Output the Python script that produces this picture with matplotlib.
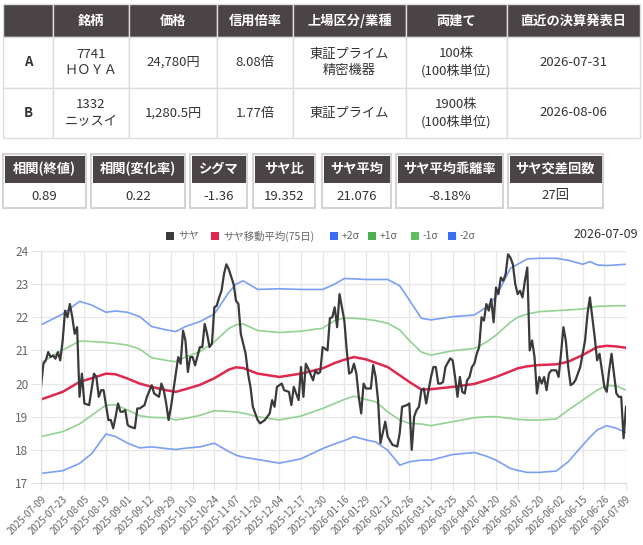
#サヤ取りペアの銘柄表・統計値・サヤ推移チャートを1枚に描く

import matplotlib
matplotlib.use('Agg')
import matplotlib.pyplot as plt
from matplotlib.patches import Rectangle

plt.rcParams['font.family'] = ['Noto Sans CJK JP', 'DejaVu Sans']

# 銘柄テーブル
head = ['', '銘柄', '価格', '信用倍率', '上場区分/業種', '両建て', '直近の決算発表日']
row_a = ['A', '7741\nＨＯＹＡ', '24,780円', '8.08倍', '東証プライム\n精密機器', '100株\n(100株単位)', '2026-07-31']
row_b = ['B', '1332\nニッスイ', '1,280.5円', '1.77倍', '東証プライム', '1900株\n(100株単位)', '2026-08-06']

# 統計値
stat_names = ['相関(終値)', '相関(変化率)', 'シグマ', 'サヤ比', 'サヤ平均', 'サヤ平均乖離率', 'サヤ交差回数']
stat_values = ['0.89', '0.22', '-1.36', '19.352', '21.076', '-8.18%', '27回']

# x軸(営業日の通し番号), 9営業日ごとにラベル
date_labels = ['2025-07-09', '2025-07-23', '2025-08-05', '2025-08-19', '2025-09-01', '2025-09-12',
               '2025-09-29', '2025-10-10', '2025-10-24', '2025-11-07', '2025-11-20', '2025-12-04',
               '2025-12-17', '2025-12-30', '2026-01-16', '2026-01-29', '2026-02-12', '2026-02-26',
               '2026-03-11', '2026-03-25', '2026-04-07', '2026-04-20', '2026-05-07', '2026-05-20',
               '2026-06-02', '2026-06-15', '2026-06-26', '2026-07-09']
last_date = '2026-07-09'
tick_step = 9

# サヤ
saya_day = [0, 1, 2, 3, 4, 5, 6, 7, 8, 9, 10, 11, 12, 13, 14, 15, 16, 17, 18, 20,
            22, 23, 24, 25, 26, 28, 29, 30, 31, 32, 33, 34, 35, 36, 37, 39, 40, 41, 43, 44,
            46, 47, 49, 50, 51, 52, 53, 54, 55, 57, 58, 59, 60, 61, 62, 63, 64, 66, 67, 68,
            69, 70, 71, 72, 73, 74, 75, 76, 77, 78, 80, 81, 82, 83, 85, 86, 87, 88, 89, 90,
            91, 93, 95, 96, 97, 98, 100, 101, 103, 104, 105, 107, 108, 109, 110, 111, 113, 114, 115, 116,
            117, 119, 120, 121, 122, 123, 124, 125, 126, 127, 128, 129, 130, 131, 132, 133, 134, 135, 137, 138,
            139, 140, 141, 143, 144, 146, 148, 149, 150, 152, 153, 154, 155, 156, 157, 158, 159, 160, 161, 162,
            163, 164, 165, 166, 167, 168, 170, 171, 172, 173, 174, 175, 176, 177, 178, 179, 180, 181, 182, 183,
            184, 185, 186, 187, 188, 189, 190, 191, 192, 193, 194, 195, 196, 197, 198, 199, 200, 201, 202, 203,
            204, 205, 206, 207, 208, 209, 210, 211, 212, 214, 215, 216, 217, 218, 219, 220, 221, 222, 224, 225,
            226, 227, 228, 229, 230, 231, 232, 233, 234, 235, 236, 237, 238, 239, 240, 241, 242, 243]
saya_val = [19.9, 20.6, 20.7, 20.95, 20.8, 20.85, 20.75, 20.95, 20.7, 21.3, 22.2, 22.0, 22.4, 22.0, 21.5, 21.7, 19.6, 20.3, 19.4, 19.35,
            20.3, 20.2, 19.6, 19.8, 19.8, 18.9, 18.9, 18.65, 19.0, 19.4, 19.15, 19.15, 19.2, 18.75, 18.7, 18.65, 19.25, 19.25, 19.35, 19.6,
            19.95, 19.7, 19.6, 20.0, 19.8, 19.4, 18.9, 19.3, 19.8, 20.8, 20.6, 21.6, 21.3, 20.35, 20.8, 20.8, 20.55, 21.1, 21.1, 21.8,
            21.5, 21.1, 21.2, 22.3, 22.35, 22.6, 22.8, 23.3, 23.6, 23.45, 23.0, 22.5, 22.4, 21.5, 20.9, 20.3, 19.9, 19.3, 19.1, 18.9,
            18.8, 18.9, 19.1, 19.5, 19.3, 19.9, 20.0, 19.8, 19.75, 19.35, 19.9, 19.5, 20.5, 19.6, 20.6, 20.45, 20.1, 20.4, 20.3, 20.35,
            21.1, 21.0, 21.97, 22.0, 22.3, 21.7, 22.7, 22.3, 21.9, 21.0, 20.3, 20.35, 20.6, 20.3, 19.6, 19.1, 20.0, 19.85, 19.85, 20.56,
            20.2, 19.5, 18.2, 18.85, 18.4, 18.15, 18.1, 18.5, 19.3, 19.35, 19.4, 18.0, 19.0, 19.2, 19.3, 19.8, 19.85, 19.4, 19.8, 20.2,
            20.5, 20.5, 20.0, 20.0, 20.05, 20.5, 20.76, 20.7, 20.2, 19.6, 20.2, 19.75, 19.7, 20.1, 20.2, 20.5, 20.6, 20.9, 21.1, 22.0,
            21.9, 22.4, 22.2, 22.55, 21.85, 22.9, 22.7, 23.2, 23.1, 23.3, 23.9, 23.8, 23.6, 23.0, 22.7, 22.8, 22.6, 23.1, 23.5, 21.0,
            21.3, 20.8, 19.7, 20.2, 20.0, 20.2, 19.8, 20.3, 20.4, 20.4, 20.2, 20.9, 21.7, 21.3, 20.5, 19.95, 20.0, 20.1, 20.5, 20.9,
            21.3, 22.1, 22.6, 22.0, 21.4, 20.7, 20.9, 20.4, 19.9, 19.75, 20.4, 20.9, 20.3, 19.7, 19.6, 19.6, 18.35, 19.3]

# 移動平均とσバンド
band_day = [0, 9, 16, 21, 27, 31, 36, 41, 46, 52, 56, 60, 66, 72, 78, 81, 84, 90, 99, 108,
            117, 122, 126, 130, 135, 139, 144, 149, 153, 158, 162, 171, 180, 185, 189, 195, 198, 202, 207, 214,
            219, 225, 228, 231, 235, 239, 243]
ma75 = [19.52, 19.75, 20.05, 20.16, 20.3, 20.28, 20.15, 20.0, 19.9, 19.8, 19.75, 19.83, 19.96, 20.16, 20.42, 20.49, 20.47, 20.3, 20.2, 20.3,
        20.46, 20.62, 20.72, 20.8, 20.73, 20.63, 20.5, 20.25, 20.05, 19.82, 19.83, 19.9, 19.99, 20.1, 20.2, 20.37, 20.46, 20.52, 20.56, 20.58,
        20.66, 20.86, 20.98, 21.1, 21.14, 21.12, 21.08]
plus2 = [21.77, 22.1, 22.48, 22.37, 22.15, 22.19, 22.15, 22.02, 21.72, 21.62, 21.57, 21.72, 21.87, 22.1, 22.75, 23.0, 23.1, 22.84, 22.86, 22.84,
         22.84, 23.0, 23.17, 23.16, 23.14, 23.14, 23.14, 22.95, 22.52, 21.97, 21.92, 22.02, 22.07, 22.3, 22.62, 23.48, 23.6, 23.76, 23.78, 23.78,
         23.72, 23.6, 23.68, 23.58, 23.56, 23.58, 23.6]
plus1 = [20.63, 21.01, 21.28, 21.27, 21.24, 21.21, 21.16, 21.04, 20.78, 20.7, 20.66, 20.8, 20.96, 21.26, 21.66, 21.77, 21.8, 21.6, 21.54, 21.58,
         21.67, 21.9, 21.98, 21.97, 21.94, 21.9, 21.82, 21.62, 21.3, 20.95, 20.86, 20.99, 21.06, 21.25, 21.46, 21.85, 22.0, 22.1, 22.17, 22.2,
         22.22, 22.25, 22.3, 22.33, 22.34, 22.35, 22.35]
minus1 = [18.4, 18.55, 18.78, 19.04, 19.35, 19.36, 19.2, 19.03, 18.98, 18.97, 18.9, 18.95, 19.04, 19.18, 19.16, 19.14, 19.11, 19.0, 18.9, 19.02,
          19.25, 19.4, 19.52, 19.62, 19.52, 19.45, 19.15, 18.9, 18.8, 18.78, 18.73, 18.85, 18.97, 19.0, 19.0, 18.95, 18.92, 18.9, 18.9, 18.93,
          19.2, 19.5, 19.65, 19.8, 19.94, 19.93, 19.8]
minus2 = [17.29, 17.37, 17.59, 17.88, 18.48, 18.4, 18.2, 18.06, 18.09, 18.04, 18.01, 18.05, 18.09, 18.2, 17.95, 17.84, 17.78, 17.71, 17.6, 17.73,
          18.04, 18.18, 18.28, 18.4, 18.3, 18.24, 17.99, 17.54, 17.64, 17.69, 17.69, 17.86, 17.92, 17.81, 17.69, 17.44, 17.38, 17.32, 17.32, 17.36,
          17.64, 18.14, 18.38, 18.6, 18.73, 18.65, 18.52]

dark = '#4a4446'
border = '#dddddd'
txt = '#333333'

fig = plt.figure(figsize=(6.43, 5.45), dpi=100)

# 表などはピクセル座標の透明axesに描く
bg = fig.add_axes([0, 0, 1, 1])
bg.set_xlim(0, 643)
bg.set_ylim(545, 0)
bg.axis('off')

col_x = [3, 53, 129, 217, 293, 406, 507, 640]
row_y = [4, 37, 88, 138]
for r, cells in enumerate([head, row_a, row_b]):
    for c, t in enumerate(cells):
        x0, x1 = col_x[c], col_x[c + 1]
        y0, y1 = row_y[r], row_y[r + 1]
        fc = dark if r == 0 else 'white'
        bg.add_patch(Rectangle((x0, y0), x1 - x0, y1 - y0, facecolor=fc, edgecolor=border, lw=1))
        if r == 0:
            bg.text((x0 + x1) / 2, (y0 + y1) / 2, t, ha='center', va='center', fontsize=9.5,
                    color='white', fontweight='bold')
        else:
            bg.text((x0 + x1) / 2, (y0 + y1) / 2, t, ha='center', va='center', fontsize=9.5,
                    color=txt, linespacing=1.35, fontweight='bold' if c == 0 else 'normal')

# 統計ボックス
box_x = [(3, 86), (91, 185), (190, 247), (253, 315), (322, 391), (396, 503), (508, 603)]
for (x0, x1), name, val in zip(box_x, stat_names, stat_values):
    bg.add_patch(Rectangle((x0, 154), x1 - x0, 54, facecolor='white', edgecolor='#d4d4d4', lw=1.5))
    bg.add_patch(Rectangle((x0 + 1.5, 155.5), x1 - x0 - 3, 27.5, facecolor=dark, edgecolor='none'))
    bg.text((x0 + x1) / 2, 169, name, ha='center', va='center', fontsize=9.5, color='white', fontweight='bold')
    bg.text((x0 + x1) / 2, 196, val, ha='center', va='center', fontsize=9.5, color=txt)

# 凡例
legend_items = [('サヤ', '#3c3c3c', 166), ('サヤ移動平均(75日)', '#e0284f', 211),
                ('+2σ', '#3b6ff2', 330), ('+1σ', '#4caf50', 368),
                ('-1σ', '#5fbf5f', 411), ('-2σ', '#3b6ff2', 448)]
for name, col, lx in legend_items:
    bg.add_patch(Rectangle((lx, 232), 8, 8, facecolor=col, edgecolor='none'))
    bg.text(lx + 12, 236, name, ha='left', va='center', fontsize=7.5, color='#666666')
bg.text(638, 235, last_date, ha='right', va='center', fontsize=9, color=txt)

# チャート
ax = fig.add_axes([41 / 643, 1 - 483 / 545, 585 / 643, 232 / 545])
ax.plot(band_day, minus2, color='#7a9ff7', lw=1.2)
ax.plot(band_day, minus1, color='#92d292', lw=1.2)
ax.plot(band_day, plus1, color='#92d292', lw=1.2)
ax.plot(band_day, plus2, color='#7a9ff7', lw=1.2)
ax.plot(band_day, ma75, color='#e0284f', lw=1.8)
ax.plot(saya_day, saya_val, color='#3a3a3a', lw=1.6)

ax.set_xlim(0, (len(date_labels) - 1) * tick_step)
ax.set_ylim(17, 24)
ax.set_xticks(range(0, len(date_labels) * tick_step, tick_step))
ax.set_xticklabels(date_labels, rotation=45, ha='right', va='top', rotation_mode='anchor',
                   fontsize=7, color='#666666')
ax.set_yticks(range(17, 25))
ax.tick_params(axis='y', labelsize=8.5, labelcolor='#666666', length=7, color='#e3e3e3', pad=2)
ax.tick_params(axis='x', length=5, color='#e3e3e3', pad=3)
ax.grid(True, color='#e6e6e6', lw=0.9)
ax.set_axisbelow(True)
for s in ['top', 'right']:
    ax.spines[s].set_visible(False)
for s in ['left', 'bottom']:
    ax.spines[s].set_color('#dcdcdc')

plt.savefig('out.png', dpi=100)
